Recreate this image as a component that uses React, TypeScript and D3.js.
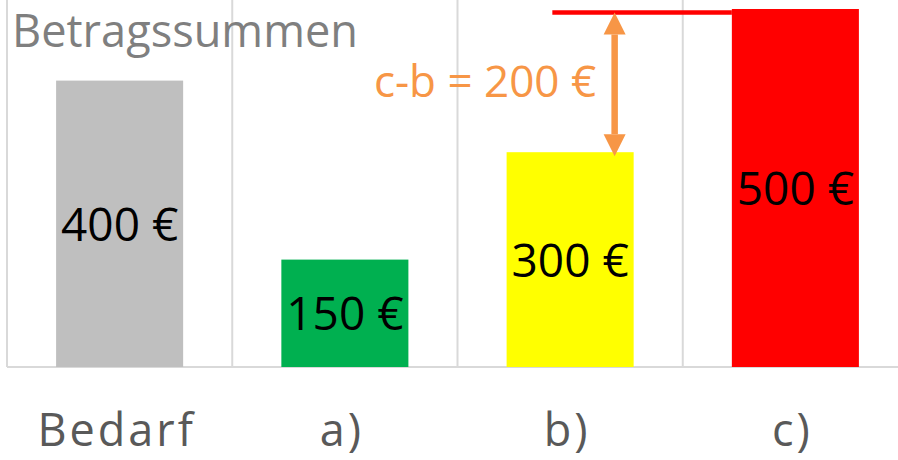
import * as d3 from "d3";

const categories = ["Bedarf", "a)", "b)", "c)"];
const values = [400, 150, 300, 500];
const barLabels = ["400 €", "150 €", "300 €", "500 €"];
const barColors = ["#BFBFBF", "#00B050", "#FFFF00", "#FF0000"];
const diffLabel = "c-b = 200 €";

const width = 898;
const height = 460;
const FONT = "'Open Sans', 'Noto Sans', sans-serif";

export default function App() {
  const x = d3
    .scaleBand<string>()
    .domain(categories)
    .range([7, 908])
    .paddingInner(0.436)
    .paddingOuter(0.218);

  const y = d3.scaleLinear().domain([0, 500]).range([367, 9]);
  const bw = x.bandwidth();
  const step = x.step();

  // gridlines sit between categories
  const gridX = categories.map((c) => (x(c) as number) - (step - bw) / 2);

  // difference annotation between b) and c)
  const bX = x("b)") as number;
  const cX = x("c)") as number;
  const topY = y(values[3]) + 3.5;
  const lowY = y(values[2]) + 4;
  const arrowX = bX + bw - 19;
  const head = 22;

  return (
    <svg
      width={width}
      height={height}
      style={{ position: "absolute", left: 0, top: 0, background: "#fff" }}
      fontFamily={FONT}
    >
      {gridX.map((gx, i) => (
        <line key={i} x1={gx} x2={gx} y1={0} y2={y(0)} stroke="#D9D9D9" strokeWidth={2} />
      ))}
      <line x1={gridX[0]} x2={width} y1={y(0)} y2={y(0)} stroke="#D9D9D9" strokeWidth={2} />

      <text x={12} y={47} fontSize={45} fill="#7F7F7F" textLength={346} lengthAdjust="spacingAndGlyphs">
        Betragssummen
      </text>

      {categories.map((c, i) => (
        <rect
          key={c}
          x={x(c)}
          y={y(values[i])}
          width={bw}
          height={y(0) - y(values[i])}
          fill={barColors[i]}
        />
      ))}

      {categories.map((c, i) => (
        <text
          key={c}
          x={(x(c) as number) + bw / 2}
          y={(y(values[i]) + y(0)) / 2 + 17}
          textAnchor="middle"
          fontSize={46}
          fill="#000"
        >
          {barLabels[i]}
        </text>
      ))}

      {categories.map((c) => (
        <text
          key={c}
          x={(x(c) as number) + bw / 2 - 3}
          y={446}
          textAnchor="middle"
          fontSize={45}
          fill="#595959"
          letterSpacing={3}
        >
          {c}
        </text>
      ))}

      <line x1={bX + bw * 0.36} x2={cX} y1={topY} y2={topY} stroke="#FF0000" strokeWidth={4.5} />

      <line
        x1={arrowX}
        x2={arrowX}
        y1={topY + head}
        y2={lowY - head}
        stroke="#F79646"
        strokeWidth={6.5}
      />
      <path
        d={`M${arrowX},${topY} L${arrowX - head / 2},${topY + head} L${arrowX + head / 2},${topY + head} Z`}
        fill="#F79646"
      />
      <path
        d={`M${arrowX},${lowY} L${arrowX - head / 2},${lowY - head} L${arrowX + head / 2},${lowY - head} Z`}
        fill="#F79646"
      />

      <text x={485} y={97} textAnchor="middle" fontSize={44} fill="#F79646">
        {diffLabel}
      </text>
    </svg>
  );
}
